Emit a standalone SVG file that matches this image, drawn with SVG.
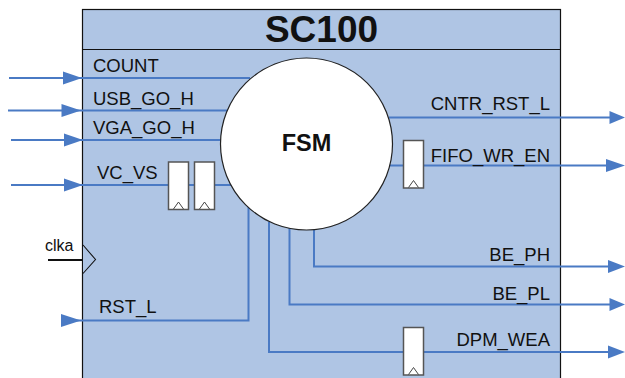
<svg xmlns="http://www.w3.org/2000/svg" width="625" height="378" viewBox="0 0 625 378">
<style>
text{font-family:"Liberation Sans",Arial,sans-serif;fill:#111}
.l{font-size:18.500px}
.e{text-anchor:end}
.w{fill:none;stroke:#4a7ac4;stroke-width:2}
.h{fill:#4a7ac4}
.ff{fill:#fff;stroke:#555;stroke-width:1.5}
.t{fill:none;stroke:#444;stroke-width:1}
</style>
<g id="block">
<rect x="82.500" y="9.500" width="478" height="380" fill="#afc5e4" stroke="#111" stroke-width="1.200"/>
<line x1="82.500" y1="49.500" x2="560.500" y2="49.500" stroke="#111" stroke-width="1.200"/>
<text x="321.500" y="42" font-size="37" font-weight="bold" text-anchor="middle">SC100</text>
</g>
<g id="connectors">
<path class="w" d="M9 78H250"/><path class="h" d="M63 71.500L82 78L63 84.500Z"/>
<path class="w" d="M8 110.500H230"/><path class="h" d="M61.500 104L81 110.500L61.500 117Z"/>
<path class="w" d="M11 140H222"/><path class="h" d="M64 133.500L83 140L64 146.500Z"/>
<path class="w" d="M11 185H232"/><path class="h" d="M64 178.500L83 185L64 191.500Z"/>
<path class="w" d="M68 320.500H248.500V205"/><path class="h" d="M61 314L81 320.500L61 327Z"/>
<path class="w" d="M269 222V352H612"/><path class="h" d="M608 345.500L625 352L608 358.500Z"/>
<path class="w" d="M289.500 228V304.500H612"/><path class="h" d="M609.500 298L625 304.500L609.500 311Z"/>
<path class="w" d="M314 229V266.500H612"/><path class="h" d="M608 260L625 266.500L608 273Z"/>
<path class="w" d="M389 117.500H612"/><path class="h" d="M609.500 111L625 117.500L609.500 124Z"/>
<path class="w" d="M388 165.500H612"/><path class="h" d="M606 159L625 165.500L606 172Z"/>
<path d="M48 260H82.500" fill="none" stroke="#111" stroke-width="2"/>
</g>
<g id="clk-port">
<path d="M83 245L95.500 259.500L83 273.500" fill="#afc5e4" stroke="#111" stroke-width="1.100"/>
<text x="45" y="251" font-size="16">clka</text>
</g>
<g id="fsm">
<circle cx="306.500" cy="144" r="86" fill="#fff" stroke="#222" stroke-width="1.200"/>
<text x="306.500" y="151" font-size="23.500" font-weight="bold" text-anchor="middle">FSM</text>
</g>
<g id="ff-1"><rect class="ff" x="168.500" y="162" width="20" height="47.500"/><path class="t" d="M173.500 209L178.500 202L183.500 209"/></g>
<g id="ff-2"><rect class="ff" x="194.500" y="162" width="20" height="47.500"/><path class="t" d="M199.500 209L204.500 202L209.500 209"/></g>
<g id="ff-3"><rect class="ff" x="403.500" y="140.500" width="20" height="47.500"/><path class="t" d="M408.500 187.500L413.500 180.500L418.500 187.500"/></g>
<g id="ff-4"><rect class="ff" x="403.500" y="327.500" width="20" height="47.500"/><path class="t" d="M408.500 374.500L413.500 367.500L418.500 374.500"/></g>
<g id="labels">
<text class="l" x="93" y="71.500">COUNT</text>
<text class="l" x="93" y="105">USB_GO_H</text>
<text class="l" x="93" y="134">VGA_GO_H</text>
<text class="l" x="97" y="179">VC_VS</text>
<text class="l" x="99" y="313">RST_L</text>
<text class="l e" x="550" y="109.500">CNTR_RST_L</text>
<text class="l e" x="550" y="162">FIFO_WR_EN</text>
<text class="l e" x="550" y="261">BE_PH</text>
<text class="l e" x="550" y="300">BE_PL</text>
<text class="l e" x="550" y="346">DPM_WEA</text>
</g>
</svg>
